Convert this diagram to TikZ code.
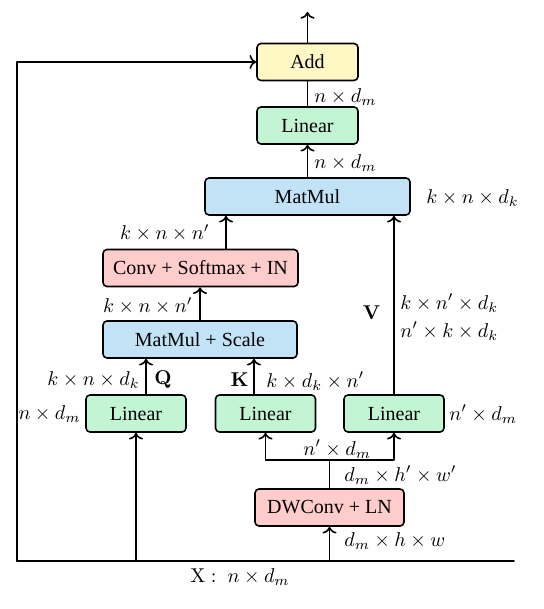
\documentclass[tikz,border=0pt]{standalone}
\usepackage{amsmath}
\usepackage[no-math]{fontspec}
\setmainfont{Liberation Serif}
\usepackage{xcolor}
\usepackage{tikz}
\usetikzlibrary{calc,arrows.meta}

\begin{document}
\begin{tikzpicture}[x=0.5pt,y=-0.5pt,>=To,line cap=round,line join=round,
	box/.style={draw,line width=0.8pt,rounded corners=2pt,minimum height=18.5pt,inner sep=0pt,font=\fontsize{10}{12}\selectfont},
	dim/.style={inner sep=0pt,font=\fontsize{10}{12}\selectfont},
	wire/.style={line width=0.8pt}]
	\definecolor{addyellow}{RGB}{255,248,197}
	\definecolor{lingreen}{RGB}{195,245,213}
	\definecolor{mmblue}{RGB}{193,227,245}
	\definecolor{convpink}{RGB}{255,204,204}
	
	% page size
	\useasboundingbox (0,0) rectangle (543,609);
	
	% blocks
	\node[box,fill=addyellow,minimum width=50.5pt] (add) at (307.5,62) {Add};
	\node[box,fill=lingreen,minimum width=50.5pt] (lin) at (307.5,125.5) {Linear};
	\node[box,fill=mmblue,minimum width=102.5pt] (mm) at (307.5,196.5) {MatMul};
	\node[box,fill=convpink,minimum width=97.5pt] (conv) at (200.5,268) {Conv + Softmax + IN};
	\node[box,fill=mmblue,minimum width=97pt] (mms) at (200,339.5) {MatMul + Scale};
	\node[box,fill=lingreen,minimum width=50pt] (linq) at (136,413.5) {Linear};
	\node[box,fill=lingreen,minimum width=50pt] (link) at (265.5,413.5) {Linear};
	\node[box,fill=lingreen,minimum width=50pt] (linv) at (394,413.5) {Linear};
	\node[box,fill=convpink,minimum width=74.5pt] (dw) at (329.5,507.5) {DWConv + LN};
	
	% free ends
	\coordinate (out) at (308,12);
	\coordinate (xl) at (17,561);
	\coordinate (xr) at (514,561);
	\coordinate (split) at ($(dw.north)+(0,-28)$);
	
	% input line + residual
	\draw[wire] (xl) -- (xr);
	\draw[wire,->] (xl) |- (add.west);
	\draw[wire,->] (add.north) -- (add.north |- out);
	
	% main path
	\draw[wire] (lin.north) -- (add.south);
	\draw[wire,->] (mm.north) -- (lin.south);
	\draw[wire,->] ([xshift=12.75pt]conv.north) -- ([xshift=12.75pt]conv.north |- mm.south);
	\draw[wire,->] (mms.north) -- (mms.north |- conv.south);
	\draw[wire,->] ([xshift=5pt]linq.north) -- ([xshift=5pt]linq.north |- mms.south);
	\draw[wire,->] ([xshift=-5.75pt]link.north) -- ([xshift=-5.75pt]link.north |- mms.south);
	\draw[wire,->] (linv.north) -- (linv.north |- mm.south);
	
	% inputs from X
	\draw[wire,->] (linq.south |- xl) -- (linq.south);
	\draw[wire,->] (dw.south |- xl) -- (dw.south);
	\draw[wire] (dw.north) -- (split);
	\draw[wire,->] (split) -| (link.south);
	\draw[wire,->] (split) -| (linv.south);
	
	% sizes
	\node[dim,anchor=west] (sadd) at (314,97) {$n\times d_m$};
	\node[dim,anchor=west] (slin) at (314,163) {$n\times d_m$};
	\node[dim,anchor=west] (smm) at (426,198) {$k\times n\times d_k$};
	\node[dim,anchor=east] (sconv) at (210,233) {$k\times n\times n'$};
	\node[dim,anchor=east] (smms) at (193,306) {$k\times n\times n'$};
	\node[dim,anchor=east] (sq) at (140,380) {$k\times n\times d_k$};
	\node[dim,anchor=west] (q) at (154,380) {$\mathbf{Q}$};
	\node[dim,anchor=east] (k) at (249,380) {$\mathbf{K}$};
	\node[dim,anchor=west] (sk) at (266,381) {$k\times d_k\times n'$};
	\node[dim,anchor=east] (v) at (381,313) {$\mathbf{V}$};
	\node[dim,anchor=west] (sv1) at (400,303) {$k\times n'\times d_k$};
	\node[dim,anchor=west] (sv2) at (400,331) {$n'\times k\times d_k$};
	\node[dim,anchor=east] (sinq) at (81,414) {$n\times d_m$};
	\node[dim,anchor=west] (sinv) at (449,414) {$n'\times d_m$};
	\node[dim,anchor=west] (ssplit) at (303,449) {$n'\times d_m$};
	\node[dim,anchor=west] (sdw1) at (344,475) {$d_m\times h'\times w'$};
	\node[dim,anchor=west] (sdw0) at (344,541) {$d_m\times h\times w$};
	\node[dim] (x) at (240,577) {$\mathrm{X}:\; n\times d_m$};
	
\end{tikzpicture}
\end{document}
